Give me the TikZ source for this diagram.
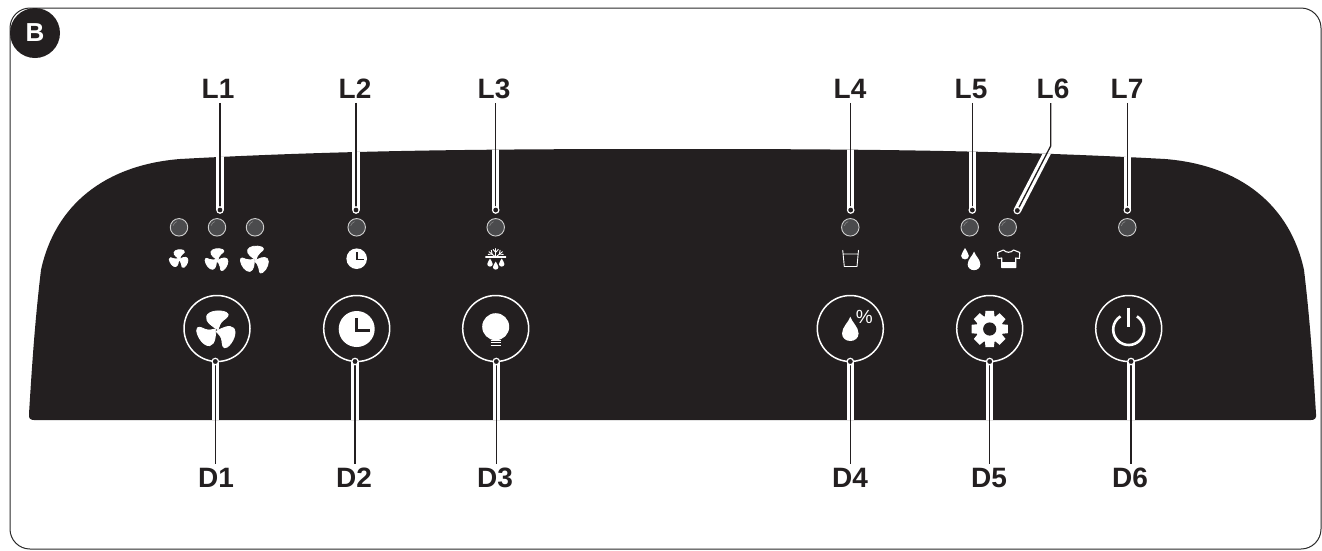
\documentclass[tikz,border=0pt]{standalone}
\usepackage{fontspec}
\setmainfont{Liberation Sans}
\definecolor{panel}{HTML}{231F20}
\definecolor{ledfill}{HTML}{4B4B4D}
\definecolor{ledring}{HTML}{CFCFCF}
\definecolor{framecol}{HTML}{2A2A2A}
\tikzset{
  lbl/.style={font=\fontsize{28}{30}\selectfont\bfseries,text=panel,inner sep=4pt},
  led/.style={circle,draw=ledring,fill=ledfill,line width=0.9pt,minimum size=17.5pt,inner sep=0},
  btn/.style={circle,draw=white,line width=1.5pt,minimum size=66pt,inner sep=0},
  halo/.style={draw=white,line width=7.5pt},
  leader/.style={draw=panel,line width=1.3pt},
  pics/fanicon/.style={code={
    \foreach \a in {-3,117,237}{
      \filldraw[white,line width=0.8pt,line join=round,rotate=\a] (0.08,-0.02) .. controls (-0.2,-0.15) and (-0.66,-0.42) .. (-0.58,-0.72)
        .. controls (-0.5,-1.0) and (0.1,-1.12) .. (0.46,-0.98)
        .. controls (0.72,-0.85) and (0.5,-0.68) .. (0.34,-0.56)
        .. controls (0.16,-0.42) and (0.12,-0.2) .. (0.08,-0.02) -- cycle;
    }
  }},
  pics/dropicon/.style={code={
    \fill[white] (0,-1) .. controls (0.12,-0.62) and (0.55,-0.32) .. (0.55,0.12)
      .. controls (0.55,0.42) and (0.3,0.62) .. (0,0.62)
      .. controls (-0.3,0.62) and (-0.55,0.42) .. (-0.55,0.12)
      .. controls (-0.55,-0.32) and (-0.12,-0.62) .. (0,-1) -- cycle;
  }},
  pics/clockicon/.style={code={
    \fill[white] (0,0) circle[radius=1];
    \draw[panel,line width=#1,line join=miter] (0,-0.62) -- (0,0.08) -- (0.72,0.08);
  }},
}
\begin{document}
\begin{tikzpicture}[x=1pt,y=-1pt]
\useasboundingbox (0,0) rectangle (1322,550);
\draw[framecol,line width=1pt,rounded corners=20pt] (10,8) rectangle (1321,549);
% panel
\def\panelpath{(34,420) -- (1311,420) .. controls (1315,420) and (1316.5,418) .. (1316,414)
  .. controls (1313,365) and (1310,320) .. (1304,270)
  .. controls (1290,205) and (1240,165) .. (1165,159)
  .. controls (1000,150) and (850,149) .. (672,149)
  .. controls (495,149) and (345,150) .. (180,159)
  .. controls (105,165) and (55,205) .. (41,270)
  .. controls (35,320) and (32,365) .. (29,414)
  .. controls (28.5,418) and (30,420) .. (34,420) -- cycle}
\fill[panel] \panelpath;
% badge
\node[circle,fill=panel,minimum size=50pt,inner sep=0,text=white,font=\fontsize{26}{28}\selectfont\bfseries] (badge) at (35,33) {B};
% labels
\foreach \n/\x in {L1/218,L2/355,L3/494,L4/850,L5/971,L6/1053,L7/1127}
  \node[lbl] (\n) at (\x,89) {\n};
\foreach \n/\x in {D1/216,D2/354,D3/495,D4/850,D5/989,D6/1130}
  \node[lbl] (\n) at (\x,478) {\n};
% LEDs
\foreach \n/\x in {a/179,b/217,c/255,d/356.7,e/495.7,f/850.3,g/969.7,h/1007.7,i/1127.3}{
  \node[led] (led\n) at (\x,227.3) {};
  \draw[white!35!ledfill,line width=0.5pt] (\x,227.3) ++(-6,-1.5) arc[start angle=195,end angle=250,radius=6.2];
}
% buttons
\foreach \n/\x in {1/217,2/356.7,3/495.7,4/850.3,5/989.7,6/1128.7}
  \node[btn] (btn\n) at (\x,328.5) {};
% leader tips
\coordinate (t1) at (220,210);
\coordinate (t2) at (356,210);
\coordinate (t3) at (495.7,210);
\coordinate (t4) at (850.7,210);
\coordinate (t5) at (972.3,210);
\coordinate (t6) at (1017.3,210.5);
\coordinate (t7) at (1127.3,210);
\coordinate (k6) at (1050.7,146);
\coordinate (b1) at (215.3,361.5);
\coordinate (b2) at (355,361.5);
\coordinate (b3) at (496.3,361.5);
\coordinate (b4) at (850.3,361.5);
\coordinate (b5) at (989.7,361.5);
\coordinate (b6) at (1131,361.5);
% halos inside the panel
\begin{scope}
\clip \panelpath;
\foreach \i in {1,2,3,4,5,7}
  \path[halo] (L\i.south -| t\i) -- (t\i);
\path[halo] (k6) -- (t6);
\foreach \i in {1,...,6}
  \path[halo] (b\i) -- (D\i.north -| b\i);
\end{scope}
% leaders
\foreach \i in {1,2,3,4,5,7}
  \path[leader] (L\i.south -| t\i) -- (t\i);
\path[leader] (L6.south -| k6) -- (k6) -- (t6);
\foreach \i in {1,...,6}
  \path[leader] (b\i) -- (D\i.north -| b\i);
\foreach \c in {t1,t2,t3,t4,t5,t6,t7,b1,b2,b3,b4,b5,b6}
  \filldraw[fill=panel,draw=white,line width=1.2pt] (\c) circle[radius=3.2];
% small icons
\pic[scale=9] at (179,259) {fanicon};
\pic[scale=11] at (217,260) {fanicon};
\pic[scale=13.5] at (255,260) {fanicon};
\pic[scale=10.3] at (356.7,258.7) {clockicon=1.8pt};
% snowflake
\begin{scope}[shift={(495.7,257)},white,line width=0.9pt,line cap=round]
\draw[line width=1.1pt] (-10,0) -- (10,0);
\foreach \a in {-52,0,52}{
  \draw[rotate=\a] (0,0) -- (0,-8.5);
  \draw[rotate=\a] (0,-4.6) -- (-2.6,-7.6) (0,-4.6) -- (2.6,-7.6);
}
\end{scope}
\pic[scale=5] at (490,263.5) {dropicon};
\pic[scale=5] at (495.7,266.5) {dropicon};
\pic[scale=5] at (501.7,263.5) {dropicon};
% cup
\draw[white,line width=0.9pt] (842.7,250) -- (844.3,266.5) -- (857,266.5) -- (858.5,250) (843,254) -- (858.2,254);
% drops
\pic[scale=7] at (965,255) {dropicon};
\pic[scale=11.5] at (974,263) {dropicon};
% t-shirt
\draw[white,line width=1.1pt,line join=round] (1001.7,258) -- (998,258.5) -- (997.5,252.5) -- (1003.5,250) .. controls (1006,253) and (1011,253) .. (1013.5,250) -- (1019.8,252.5) -- (1019.3,258.5) -- (1015.7,258) -- (1015.7,267.5) -- (1001.7,267.5) -- cycle;
\fill[white] (1001.7,261.5) rectangle (1015.7,267.5);
% D1 fan
\pic[scale=18.5] at (216.7,330) {fanicon};
% D2 clock
\pic[scale=18] at (356.7,329) {clockicon=3.2pt};
% D3 bulb
\fill[white] (487.7,336.7) -- (503.7,336.7) -- (506,334) -- (485.4,334) -- cycle;
\fill[white] (495.7,326.7) circle[radius=13.5];
\foreach \yy in {340.6,342.8,345}
  \draw[white,line width=1pt] (490.5,\yy) -- (501,\yy);
% D4 drop and percent
\pic[scale=15] at (850.3,331.7) {dropicon};
\node[text=white,font=\fontsize{19}{19}\selectfont,inner sep=0] (pct) at (864.3,317) {\%};
% D5 gear
\begin{scope}[shift={(989.7,329)}]
\foreach \a in {0,45,...,315}
  \fill[white,rotate=\a] (-4.2,-18.2) -- (4.2,-18.2) -- (5,-10) -- (-5,-10) -- cycle;
\fill[white] (0,0) circle[radius=13.6];
\fill[panel] (0,0) circle[radius=6.6];
\end{scope}
% D6 power
\draw[white,line width=2.6pt,line cap=butt] (1128.7,329.5) ++(-58:15.5) arc[start angle=-58,end angle=238,radius=15.5];
\draw[white,line width=2.6pt] (1128.7,307.7) -- (1128.7,326.7);
\end{tikzpicture}
\end{document}
